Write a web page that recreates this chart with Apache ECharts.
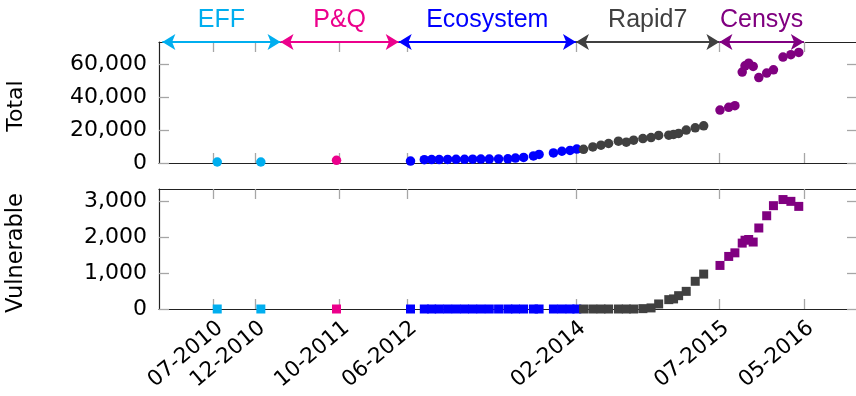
<!DOCTYPE html>
<html>
<head>
<meta charset="utf-8">
<script src="https://cdn.jsdelivr.net/npm/echarts@6/dist/echarts.min.js"></script>
<style>
  html, body { margin: 0; padding: 0; background: #fff; }
  #main { width: 856px; height: 396px; }
</style>
</head>
<body>
<div id="main"></div>
<script>
// data (dates of scans, host counts)
var effDates = ['2010-07-16', '2010-12-21'];
var effTotal = [600, 600];
var effVuln = [0, 0];

var pqDates = ['2011-09-20'];
var pqTotal = [1600];
var pqVuln = [0];

var ecoDates = ['2012-06-13', '2012-08-02', '2012-08-28', '2012-09-25', '2012-10-25', '2012-11-25',
  '2012-12-25', '2013-01-24', '2013-02-23', '2013-03-23', '2013-04-26', '2013-05-29', '2013-06-26',
  '2013-07-25', '2013-08-30', '2013-09-20', '2013-11-11', '2013-12-11', '2014-01-10', '2014-02-04'];
var ecoTotal = [1200, 2000, 2100, 2100, 2150, 2200, 2250, 2300, 2350, 2400, 2450, 2500, 3000,
  3400, 4300, 5200, 6100, 7100, 7600, 8400];
var ecoVuln = [0, 0, 0, 0, 0, 0, 0, 0, 0, 0, 0, 0, 0, 0, 0, 0, 0, 0, 0, 0];

var r7Dates = ['2014-02-28', '2014-04-01', '2014-04-30', '2014-05-27', '2014-07-02', '2014-07-30',
  '2014-08-26', '2014-09-29', '2014-10-28', '2014-11-25', '2014-12-31', '2015-01-18', '2015-02-06',
  '2015-03-03', '2015-04-05', '2015-05-05'];
var r7Total = [8300, 9700, 10800, 11800, 13200, 12600, 13800, 14800, 15400, 16700, 16800, 17300,
  17900, 19900, 21300, 22500];
var r7Vuln = [0, 0, 0, 0, 0, 0, 0, 10, 30, 140, 260, 280, 370, 490, 770, 970];

var censysDates = ['2015-07-03', '2015-08-04', '2015-08-26', '2015-09-22', '2015-10-02', '2015-10-15',
  '2015-10-31', '2015-11-21', '2015-12-19', '2016-01-13', '2016-02-17', '2016-03-15', '2016-04-13'];
var censysTotal = [32000, 33700, 34700, 55000, 58800, 60400, 58400, 51700, 54400, 56400, 64100, 65500, 66900];
var censysVuln = [1210, 1460, 1560, 1830, 1910, 1930, 1860, 2250, 2590, 2870, 3040, 2990, 2850];

// source periods shown by the arrows on top
var sourceNames = ['EFF', 'P&Q', 'Ecosystem', 'Rapid7', 'Censys'];
var sourceStart = ['2010-01-01', '2011-03-01', '2012-05-01', '2014-02-01', '2015-07-01'];
var sourceEnd = ['2011-03-01', '2012-05-01', '2014-02-01', '2015-07-01', '2016-05-01'];
var sourceColors = ['#00aeef', '#ec008c', '#0000ff', '#404040', '#800080'];

var xTickDates = ['2010-07-01', '2010-12-01', '2011-10-01', '2012-06-01', '2014-02-01', '2015-07-01', '2016-05-01'];
var totalTicks = [0, 20000, 40000, 60000];
var vulnTicks = [0, 1000, 2000, 3000];

// months since Jan 2010
function toM(s) {
  var p = s.split('-').map(Number);
  return (p[0] - 2010) * 12 + (p[1] - 1) + (p[2] - 1) / 30;
}
function pad(n) { return n < 10 ? '0' + n : '' + n; }
function monthLabel(v) {
  var m = Math.round(v);
  return pad(m % 12 + 1) + '-' + (2010 + Math.floor(m / 12));
}
function fmt(v) { return v.toLocaleString('en-US'); }

var xTicks = xTickDates.map(toM);
var FONT = 'DejaVu Sans';
var frame = '#222';
var tickGrey = '#a6a6a6';
var TOTAL_MAX = 73200;
var VULN_MAX = 3333;

function xAxis(gridIndex, position, labels) {
  return {
    type: 'value', gridIndex: gridIndex, position: position,
    min: -0.4, max: 82.3,
    axisLine: { show: true, onZero: false, lineStyle: { color: frame, width: 1.2 } },
    axisTick: { show: true, inside: true, length: 10, customValues: xTicks, lineStyle: { color: tickGrey, width: 1.3 } },
    axisLabel: labels ? {
      show: true, customValues: xTicks, rotate: 40, margin: 8, verticalAlign: 'top',
      formatter: monthLabel, color: '#000', fontFamily: FONT, fontSize: 21.5
    } : { show: false },
    splitLine: { show: false }
  };
}
function yAxis(gridIndex, position, max, ticks, labels) {
  return {
    type: 'value', gridIndex: gridIndex, position: position,
    min: 0, max: max,
    axisLine: { show: labels, onZero: false, lineStyle: { color: frame, width: 1.2 } },
    axisTick: { show: true, inside: true, length: 10, customValues: ticks, lineStyle: { color: tickGrey, width: 1.3 } },
    axisLabel: labels ? {
      show: true, customValues: ticks, margin: 12, formatter: fmt,
      color: '#000', fontFamily: FONT, fontSize: 22
    } : { show: false },
    splitLine: { show: false }
  };
}

function pts(dates, vals) {
  return dates.map(function (d, i) { return [toM(d), vals[i]]; });
}

var groups = [
  [effDates, effTotal, effVuln],
  [pqDates, pqTotal, pqVuln],
  [ecoDates, ecoTotal, ecoVuln],
  [r7Dates, r7Total, r7Vuln],
  [censysDates, censysTotal, censysVuln]
];

var series = [];
groups.forEach(function (g, i) {
  series.push({
    type: 'scatter', name: sourceNames[i], xAxisIndex: 0, yAxisIndex: 0,
    symbol: 'circle', symbolSize: 9.5, clip: false,
    itemStyle: { color: sourceColors[i], opacity: 1 },
    data: pts(g[0], g[1])
  });
});
groups.forEach(function (g, i) {
  series.push({
    type: 'scatter', name: sourceNames[i] + ' vuln', xAxisIndex: 2, yAxisIndex: 2,
    symbol: 'rect', symbolSize: 9, clip: false,
    itemStyle: { color: sourceColors[i], opacity: 1 },
    data: pts(g[0], g[2])
  });
});

// arrows on the top border
series.push({
  type: 'scatter', xAxisIndex: 1, yAxisIndex: 0, data: [], clip: false, z: 5,
  markLine: {
    silent: true, animation: false,
    symbol: ['arrow', 'arrow'], symbolSize: [12, 13],
    data: sourceNames.map(function (n, i) {
      return [
        { coord: [toM(sourceStart[i]), TOTAL_MAX], lineStyle: { color: sourceColors[i], width: 2.2, type: 'solid' },
          itemStyle: { color: sourceColors[i] },
          label: { show: true, position: 'insideMiddleTop', distance: 9, formatter: n, color: sourceColors[i],
            fontFamily: 'Liberation Sans', fontSize: 25 } },
        { coord: [toM(sourceEnd[i]), TOTAL_MAX] }
      ];
    })
  }
});

var chart = echarts.init(document.getElementById('main'), null, { renderer: 'canvas' });
chart.setOption({
  animation: false,
  backgroundColor: '#fff',
  grid: [
    { left: 159, right: -1, top: 42, height: 121, outerBoundsMode: 'none' },
    { left: 159, right: -1, top: 189, height: 120, outerBoundsMode: 'none' }
  ],
  xAxis: [
    xAxis(0, 'bottom', false),
    xAxis(0, 'top', false),
    xAxis(1, 'bottom', true),
    xAxis(1, 'top', false)
  ],
  yAxis: [
    yAxis(0, 'left', TOTAL_MAX, totalTicks, true),
    yAxis(0, 'right', TOTAL_MAX, totalTicks, false),
    yAxis(1, 'left', VULN_MAX, vulnTicks, true),
    yAxis(1, 'right', VULN_MAX, vulnTicks, false)
  ],
  graphic: [
    { type: 'text', x: 16, y: 106, rotation: Math.PI / 2,
      style: { text: 'Total', fontFamily: FONT, fontSize: 22, fill: '#000', align: 'center', verticalAlign: 'middle' } },
    { type: 'text', x: 16, y: 253, rotation: Math.PI / 2,
      style: { text: 'Vulnerable', fontFamily: FONT, fontSize: 22.5, fill: '#000', align: 'center', verticalAlign: 'middle' } }
  ],
  series: series
});
</script>
</body>
</html>
